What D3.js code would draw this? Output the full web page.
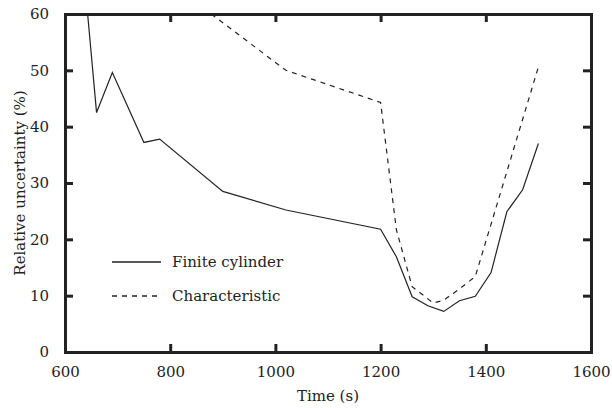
<!DOCTYPE html>
<html><head><meta charset="utf-8">
<script src="https://cdn.jsdelivr.net/npm/d3@7"></script>
<style>body{margin:0;background:#fff}svg{display:block}</style>
</head><body><svg id="c" width="612" height="408"></svg>
<script>
const xTicks = [600, 800, 1000, 1200, 1400, 1600];
const yTicks = [0, 10, 20, 30, 40, 50, 60];
const seriesNames = ["Finite cylinder", "Characteristic"];
const finiteTime = [643, 660, 690, 750, 780, 900, 1020, 1200, 1230, 1260, 1290, 1320, 1350, 1380, 1410, 1440, 1470, 1500];
const finiteVal  = [60, 42.5, 49.6, 37.2, 37.8, 28.5, 25.2, 21.8, 16.9, 9.8, 8.2, 7.2, 9.1, 9.9, 14.1, 24.9, 28.8, 37.0];
const charTime = [878, 1020, 1200, 1230, 1260, 1300, 1320, 1350, 1380, 1500];
const charVal  = [60, 50, 44.3, 21.7, 11.6, 8.7, 9.2, 11.2, 13.4, 50.6];

const svg = d3.select("#c");
const L = 65, R = 591, T = 14, B = 352;
const x = d3.scaleLinear().domain([600, 1600]).range([L, R]);
const y = d3.scaleLinear().domain([0, 60]).range([B, T]);
const ink = "#222";
const fs = 15;
const FF = "'DejaVu Serif'";

svg.append("clipPath").attr("id", "pc").append("rect")
  .attr("x", L).attr("y", T).attr("width", R - L).attr("height", B - T);

const line = d3.line().x(d => x(d[0])).y(d => y(d[1]));
const g = svg.append("g").attr("clip-path", "url(#pc)");
g.append("path").datum(finiteTime.map((t, i) => [t, finiteVal[i]]))
  .attr("d", line).attr("fill", "none").attr("stroke", ink).attr("stroke-width", 1.2);
g.append("path").datum(charTime.map((t, i) => [t, charVal[i]]))
  .attr("d", line).attr("fill", "none").attr("stroke", ink).attr("stroke-width", 1.2)
  .attr("stroke-dasharray", "5,5");

const tl = 8;
function styleAx(sel) {
  sel.attr("font-family", null).attr("font-size", null);
  sel.select(".domain").attr("stroke", ink).attr("stroke-width", 3);
  sel.selectAll(".tick line").attr("stroke", ink).attr("stroke-width", 3);
  sel.selectAll("text").style("font-size", fs + "px").style("font-family", FF).attr("fill", ink);
}
svg.append("g").attr("transform", `translate(0,${B})`)
  .call(d3.axisBottom(x).tickValues(xTicks).tickSizeInner(-tl).tickSizeOuter(0).tickPadding(14).tickFormat(d3.format("d")))
  .call(styleAx);
svg.append("g").attr("transform", `translate(0,${T})`)
  .call(d3.axisTop(x).tickValues(xTicks).tickSizeInner(-tl).tickSizeOuter(0).tickFormat(""))
  .call(styleAx);
svg.append("g").attr("transform", `translate(${L},0)`)
  .call(d3.axisLeft(y).tickValues(yTicks).tickSizeInner(-tl).tickSizeOuter(0).tickPadding(16).tickFormat(d3.format("d")))
  .call(styleAx);
svg.append("g").attr("transform", `translate(${R},0)`)
  .call(d3.axisRight(y).tickValues(yTicks).tickSizeInner(-tl).tickSizeOuter(0).tickFormat(""))
  .call(styleAx);
svg.selectAll(".domain").attr("stroke-linecap", "square");

svg.append("text").attr("x", 328).attr("y", 401).attr("text-anchor", "middle")
  .style("font-size", fs + "px").style("font-family", FF).attr("fill", ink).text("Time (s)");
svg.append("text").attr("transform", `translate(25,${(T + B) / 2}) rotate(-90)`)
  .attr("text-anchor", "middle").style("font-size", fs + "px").style("font-family", FF).attr("fill", ink)
  .text("Relative uncertainty (%)");

const leg = svg.append("g");
seriesNames.forEach((n, i) => {
  const yy = 262 + i * 34;
  leg.append("line").attr("x1", 112).attr("x2", 161).attr("y1", yy).attr("y2", yy)
    .attr("stroke", ink).attr("stroke-width", 1.5)
    .attr("stroke-dasharray", i === 1 ? "5,5" : null);
  leg.append("text").attr("x", 172).attr("y", yy + 5)
    .style("font-size", fs + "px").style("font-family", FF).attr("fill", ink).text(n);
});
</script></body></html>
